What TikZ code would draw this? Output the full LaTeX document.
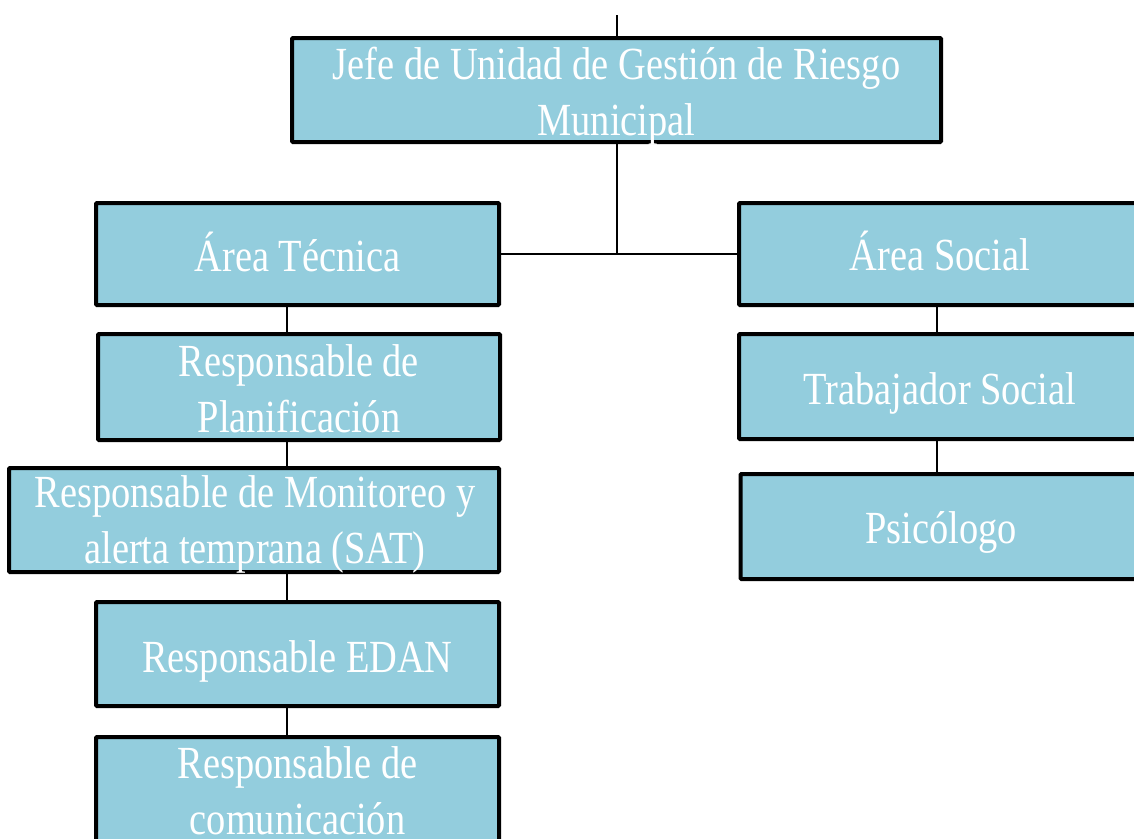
\documentclass[tikz,border=0pt]{standalone}
\usepackage{fontspec}
\setmainfont{Liberation Serif}[FakeStretch=0.835]
\definecolor{boxfill}{RGB}{147,205,221}
\tikzset{
  orgbox/.style={draw=black, line width=4pt, fill=boxfill, rounded corners=1pt, inner sep=0pt},
  orgtext/.style={text=white, font=\fontsize{46}{56}\selectfont, align=center, inner sep=0pt, anchor=base},
  conn/.style={draw=black, line width=2pt}
}
\begin{document}
\begin{tikzpicture}[x=1pt,y=-1pt]
\useasboundingbox (0,0) rectangle (1134,838);
\clip (0,0) rectangle (1134,838);
% boxes
\node[orgbox, minimum width=649pt, minimum height=104pt] (jefe) at (616.5,90) {};
\node[orgbox, minimum width=403pt, minimum height=102pt] (tec) at (297.5,254) {};
\node[orgbox, minimum width=402pt, minimum height=102pt] (soc) at (940,254) {};
\node[orgbox, minimum width=402pt, minimum height=106pt] (plan) at (299,387) {};
\node[orgbox, minimum width=490pt, minimum height=104pt] (mon) at (254,520) {};
\node[orgbox, minimum width=403pt, minimum height=104pt] (edan) at (297.5,654) {};
\node[orgbox, minimum width=403pt, minimum height=106pt] (com) at (297.5,790) {};
\node[orgbox, minimum width=402pt, minimum height=105pt] (trab) at (940,386.5) {};
\node[orgbox, minimum width=401pt, minimum height=105pt] (psi) at (941,526.5) {};
% texts (anchor base = baseline of the last line)
\node[orgtext] (tjefe) at (616.5,135) {Jefe de Unidad de Gestión de Riesgo\\Municipal};
\node[orgtext] (ttec) at (297.5,271) {Área Técnica};
\node[orgtext] (tsoc) at (940,270) {Área Social};
\node[orgtext] (tplan) at (299,432) {Responsable de\\Planificación};
\node[orgtext] (tmon) at (255,563) {Responsable de Monitoreo y\\alerta temprana (SAT)};
\node[orgtext] (tedan) at (297.5,672) {Responsable EDAN};
\node[orgtext] (tcom) at (297.5,834) {Responsable de\\comunicación};
\node[orgtext] (ttrab) at (940,404) {Trabajador Social};
\node[orgtext] (tpsi) at (941,543) {Psicólogo};
% connectors
\coordinate (top) at (616.5,15);
\coordinate (lc) at (287,0);
\coordinate (rc) at (937,0);
\draw[conn] (top) -- (jefe.north);
\draw[conn] (jefe.south) -- (jefe.south |- tec.east);
\draw[conn] (tec.east) -- (soc.west);
\draw[conn] (tec.south -| lc) -- (plan.north -| lc);
\draw[conn] (plan.south -| lc) -- (mon.north -| lc);
\draw[conn] (mon.south -| lc) -- (edan.north -| lc);
\draw[conn] (edan.south -| lc) -- (com.north -| lc);
\draw[conn] (soc.south -| rc) -- (trab.north -| rc);
\draw[conn] (trab.south -| rc) -- (psi.north -| rc);
\end{tikzpicture}
\end{document}
